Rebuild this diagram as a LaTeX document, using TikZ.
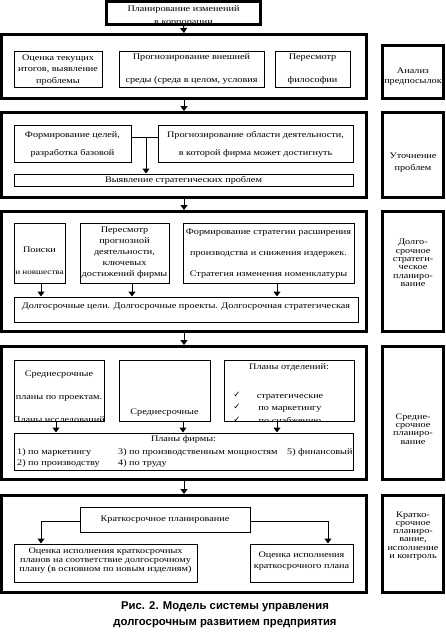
\documentclass[tikz,border=0pt]{standalone}
\usepackage{fontspec}
\setmainfont{Liberation Serif}[FakeStretch=1.2]
\newfontfamily\capfont{Liberation Sans}
\newfontfamily\symfont{DejaVu Sans}
\usetikzlibrary{arrows.meta,fit}
\tikzset{
  thickbox/.style={draw,line width=3pt,inner sep=0pt},
  thinbox/.style={draw,line width=1pt,inner sep=0pt},
  txt/.style={align=center,inner sep=0pt,font=\fontsize{8.5}{11}\selectfont},
  arr/.style={line width=1pt,-{Triangle[width=7pt,length=5pt]}},
  conn/.style={line width=1pt}
}
\newcommand{\bs}[1]{\fontsize{8.5}{#1}\selectfont}
\begin{document}
\begin{tikzpicture}[x=1pt,y=-1pt]
\useasboundingbox (0,0) rectangle (445,632);
% ---- top box
\begin{scope}
\clip (108,3) rectangle (259,23);
\node[txt,font=\bs{13}] (ttop) at (183.5,15.5) {Планирование изменений\\в корпорации};
\end{scope}
\node[thickbox,fit={(106.5,1.5) (260.5,24.5)}] (top) {};
% ---- big boxes
\node[thickbox,fit={(1.5,34.5) (366.5,98.5)}] (b1) {};
\node[thickbox,fit={(1.5,112.5) (366.5,197.5)}] (b2) {};
\node[thickbox,fit={(1.5,211.5) (366.5,331.5)}] (b3) {};
\node[thickbox,fit={(1.5,346.5) (366.5,479.5)}] (b4) {};
\node[thickbox,fit={(1.5,495.5) (366.5,592.5)}] (b5) {};
% ---- right boxes
\node[thickbox,fit={(382.5,45.5) (443.5,98.5)}] (r1) {};
\node[thickbox,fit={(382.5,112.5) (443.5,197.5)}] (r2) {};
\node[thickbox,fit={(382.5,211.5) (443.5,331.5)}] (r3) {};
\node[thickbox,fit={(382.5,346.5) (443.5,479.5)}] (r4) {};
\node[thickbox,fit={(382.5,495.5) (443.5,592.5)}] (r5) {};
\node[txt,font=\bs{10}] (tr1) at (413,77) {Анализ\\предпосылок};
\node[txt,font=\bs{12}] (tr2) at (413,163) {Уточнение\\проблем};
\node[txt,font=\bs{8.4}] (tr3) at (413,263) {Долго-\\срочное\\стратеги-\\ческое\\планиро-\\вание};
\node[txt,font=\bs{8.2}] (tr4) at (413,429) {Средне-\\срочное\\планиро-\\вание};
\node[txt,font=\bs{8.2}] (tr5) at (413,536) {Кратко-\\срочное\\планиро-\\вание,\\исполнение\\и контроль};
% ---- main arrows
\draw[arr] (top.south) -- (b1.north);
\draw[arr] (b1.south) -- (b2.north);
\draw[arr] (b2.south) -- (b3.north);
\draw[arr] (b3.south) -- (b4.north);
\draw[arr] (b4.south) -- (b5.north);
% ---- block 1
\node[thinbox,fit={(14,51) (102,87)}] (a1) {};
\node[thinbox,fit={(119,51) (264,87)}] (a2) {};
\node[thinbox,fit={(275,51) (350,87)}] (a3) {};
\node[txt,font=\bs{11.5}] (ta1) at (58,70) {Оценка текущих\\итогов, выявление\\проблемы};
\node[txt,font=\bs{23}] (ta2) at (191.5,69.5) {Прогнозирование внешней\\среды (среда в целом, условия};
\node[txt,font=\bs{23}] (ta3) at (312.5,69.5) {Пересмотр\\философии};
% ---- block 2
\node[thinbox,fit={(14,125) (131,162)}] (c1) {};
\node[thinbox,fit={(158,125) (353,162)}] (c2) {};
\node[thinbox,fit={(14,174) (353,186)}] (c3) {};
\node[txt,font=\bs{18}] (tc1) at (72.5,144) {Формирование целей,\\разработка базовой};
\node[txt,font=\bs{18}] (tc2) at (255.5,144) {Прогнозирование области деятельности,\\в которой фирма может достигнуть};
\node[txt] (tc3) at (183.5,180) {Выявление стратегических проблем};
\coordinate (cj) at (146,137);
\draw[conn] (c1.east |- cj) -- (c2.west |- cj);
\draw[arr] (cj) -- (cj |- c3.north);
% ---- block 3
\node[thinbox,fit={(14,223) (65,283)}] (d1) {};
\node[thinbox,fit={(80,223) (169,283)}] (d2) {};
\node[thinbox,fit={(183,223) (354,283)}] (d3) {};
\node[thinbox,fit={(14,297) (358,322)}] (d4) {};
\node[txt,font=\bs{22}] (td1) at (39.5,261) {Поиски\\{\fontsize{7.6}{22}\selectfont и новшества}};
\node[txt,font=\bs{11}] (td2) at (124.5,253) {Пересмотр\\прогнозной\\деятельности,\\ключевых\\достижений фирмы};
\node[txt,font=\bs{21}] (td3) at (268.5,254) {Формирование стратегии расширения\\производства и снижения издержек.\\Стратегия изменения номенклатуры};
\node[txt] (td4) at (186,307) {Долгосрочные цели. Долгосрочные проекты. Долгосрочная стратегическая};
\draw[arr] (d1.south -| 41,0) -- (d4.north -| 41,0);
\draw[arr] (d2.south -| 132,0) -- (d4.north -| 132,0);
\draw[arr] (d3.south -| 277,0) -- (d4.north -| 277,0);
% ---- block 4
\begin{scope}
\clip (14.5,360.5) rectangle (103.5,420.5);
\node[txt,font=\bs{23}] (te1) at (59,398) {Среднесрочные\\планы по проектам.\\Планы исследований};
\end{scope}
\begin{scope}
\clip (224.5,360.5) rectangle (353.5,420.5);
\node[txt] (te3h) at (289,367) {Планы отделений:};
\node[txt,font=\bs{12.5}] (te3) at (290,409) {стратегические\\по маркетингу\\по снабжению};
\node[inner sep=0pt,align=center,font=\symfont\fontsize{8.5}{12.5}\selectfont] (chk) at (237,407) {✓\\✓\\✓};
\end{scope}
\node[thinbox,fit={(14,360) (104,421)}] (e1) {};
\node[thinbox,fit={(119,360) (210,421)}] (e2) {};
\node[thinbox,fit={(224,360) (354,421)}] (e3) {};
\node[thinbox,fit={(14,433) (353,470)}] (e4) {};
\node[txt] (te2) at (164.5,413) {Среднесрочные};
\node[txt] (te4) at (183.5,439) {Планы фирмы:};
\node[txt,anchor=west] (f1) at (17,452) {1) по маркетингу};
\node[txt,anchor=west] (f3) at (118,452) {3) по производственным мощностям};
\node[txt,anchor=west] (f5) at (287,452) {5) финансовый};
\node[txt,anchor=west] (f2) at (17,463) {2) по производству};
\node[txt,anchor=west] (f4) at (118,463) {4) по труду};
\draw[arr] (e1.south -| 56,0) -- (e4.north -| 56,0);
\draw[arr] (e2.south -| 183,0) -- (e4.north -| 183,0);
\draw[arr] (e3.south -| 277,0) -- (e4.north -| 277,0);
% ---- block 5
\node[thinbox,fit={(80,507) (250,532)}] (g1) {};
\node[thinbox,fit={(14,544) (197,582)}] (g2) {};
\node[thinbox,fit={(250,544) (353,582)}] (g3) {};
\node[txt] (tg1) at (165,520) {Краткосрочное планирование};
\node[txt,font=\bs{8.8}] (tg2) at (105.5,560.5) {Оценка исполнения краткосрочных\\планов на соответствие долгосрочному\\плану (в основном по новым изделиям)};
\node[txt,font=\bs{11}] (tg3) at (301.5,561.5) {Оценка исполнения\\краткосрочного плана};
\draw[arr] (g1.west |- 0,521) -| (g2.north -| 41,0);
\draw[arr] (g1.east |- 0,521) -| (g3.north -| 328,0);
% ---- caption
\node[align=center,inner sep=0pt,font=\capfont\bfseries\fontsize{11.3}{16}\selectfont] (cap) at (225,615) {Рис. 2. Модель системы управления\\долгосрочным развитием предприятия};
\end{tikzpicture}
\end{document}
